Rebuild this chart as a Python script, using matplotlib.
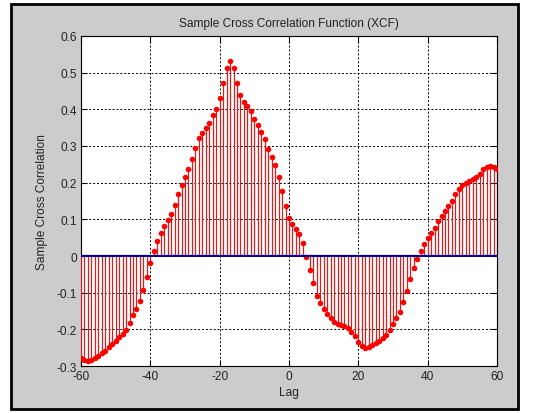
import numpy as np
import matplotlib
matplotlib.use("Agg")
import matplotlib.pyplot as plt
from matplotlib.patches import Rectangle

# sample cross correlation, lags -60..60
lags = np.arange(-60, 61)
xcf = [
    -0.278, -0.284, -0.285, -0.283, -0.278, -0.272, -0.265, -0.258, -0.249, -0.240,
    -0.231, -0.222, -0.213, -0.201, -0.184, -0.161, -0.145, -0.122, -0.093, -0.058,
    -0.020,
    0.015, 0.040, 0.064, 0.082, 0.097, 0.115, 0.140, 0.169, 0.195, 0.216,
    0.237, 0.264, 0.295, 0.321, 0.336, 0.348, 0.363, 0.385, 0.402, 0.432,
    0.471, 0.512, 0.531,
    0.512, 0.473, 0.439, 0.421, 0.410, 0.395, 0.375, 0.357, 0.339, 0.319,
    0.293, 0.271, 0.247, 0.215, 0.176, 0.137,
    0.105, 0.087, 0.073, 0.059, 0.035, -0.002,
    -0.037, -0.074, -0.108, -0.128, -0.145, -0.158, -0.170, -0.181, -0.186, -0.188,
    -0.192, -0.197, -0.206, -0.219, -0.234, -0.246, -0.251, -0.249, -0.243, -0.238,
    -0.233, -0.224, -0.215, -0.201, -0.186, -0.170, -0.152, -0.126, -0.095, -0.064,
    -0.034, -0.009,
    0.015, 0.033, 0.049, 0.062, 0.076, 0.096, 0.110, 0.124, 0.137, 0.151,
    0.169, 0.182, 0.195, 0.200, 0.205, 0.210, 0.216, 0.224, 0.237, 0.244,
    0.245, 0.244, 0.238,
]
conf_upper = 0.004
conf_lower = 0.0

xticks = [-60, -40, -20, 0, 20, 40, 60]
yticks = [-0.3, -0.2, -0.1, 0, 0.1, 0.2, 0.3, 0.4, 0.5, 0.6]
ytick_labels = ["-0.3", "-0.2", "-0.1", "0", "0.1", "0.2", "0.3", "0.4", "0.5", "0.6"]

plt.rcParams['font.family'] = ['Liberation Sans', 'DejaVu Sans']
plt.rcParams['axes.unicode_minus'] = False

fig = plt.figure(figsize=(5.48, 4.14), dpi=100, facecolor="white")
# grey window with black frame
fig.patches.append(Rectangle((11 / 548, 1 - 410 / 414), 507 / 548, 405 / 414,
                             transform=fig.transFigure, facecolor="#cccccc",
                             edgecolor="black", linewidth=2, zorder=-1))

ax = fig.add_axes([81 / 548, 1 - 367 / 414, 416 / 548, 330 / 414])
ax.set_zorder(1)
ax.set_facecolor("white")

ax.vlines(lags, 0, xcf, color="#d02020", linewidth=0.9, zorder=3)
ax.plot(lags, xcf, "o", color="red", markersize=4, markeredgewidth=0, zorder=4)
ax.axhline(conf_upper, color="#5a5aff", linewidth=1, zorder=5)
ax.axhline(conf_lower, color="#00008b", linewidth=1.4, zorder=5)

ax.set_xlim(-60, 60)
ax.set_ylim(-0.3, 0.6)
ax.set_xticks(xticks)
ax.set_xticklabels([str(t) for t in xticks])
ax.set_yticks(yticks)
ax.set_yticklabels(ytick_labels)
ax.grid(True, color="black", linestyle=(0, (2, 2)), linewidth=0.7)
ax.set_axisbelow(True)
ax.tick_params(direction="in", length=4, labelsize=8.6, top=True, right=True, pad=3,
               labelcolor="#222222")
for s in ax.spines.values():
    s.set_linewidth(0.8)

ax.set_title("Sample Cross Correlation Function (XCF)", fontsize=8.6, pad=7, color="#222222")
ax.set_xlabel("Lag", fontsize=8.6, labelpad=3, color="#222222")
ax.set_ylabel("Sample Cross Correlation", fontsize=8.6, labelpad=6, color="#222222")

fig.savefig("out.png", dpi=100, facecolor="white")
